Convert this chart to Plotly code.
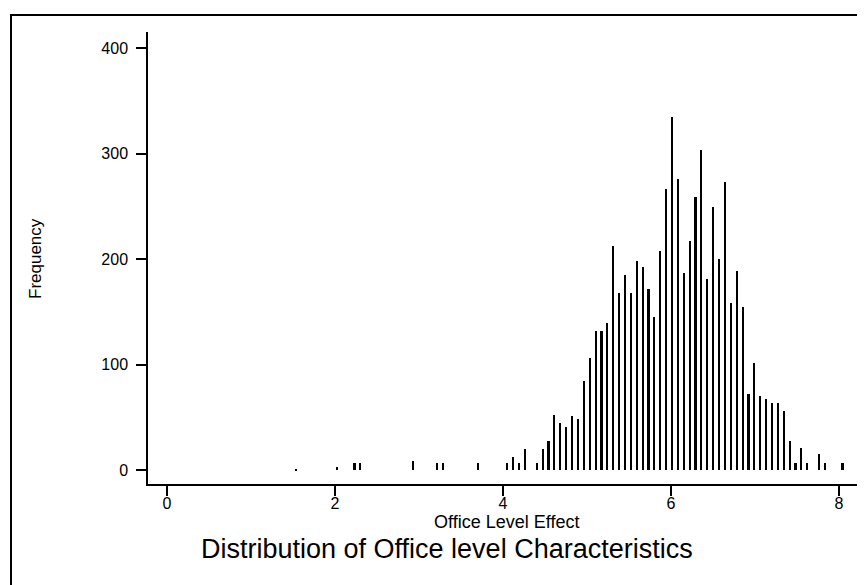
import plotly.graph_objects as go

# Histogram data: bins of width 0.07 starting at 1.5 (centres at 1.535 + 0.07*i)
bin_start = 1.535
bin_width = 0.07
counts = [
    1, 0, 0, 0, 0, 0, 0, 3, 0, 0,
    7, 7, 0, 0, 0, 0, 0, 0, 0, 0,
    9, 0, 0, 0, 7, 7, 0, 0, 0, 0,
    0, 7, 0, 0, 0, 0, 7, 13, 7, 20,
    0, 7, 20, 28, 52, 45, 41, 51, 49, 85,
    106, 132, 132, 140, 213, 168, 185, 168, 198, 193,
    172, 145, 208, 267, 335, 276, 187, 217, 259, 304,
    181, 250, 200, 273, 159, 189, 155, 72, 102, 70,
    68, 64, 64, 56, 28, 7, 21, 7, 0, 15,
    7, 0, 0, 7,
]
centres = [bin_start + bin_width * i for i in range(len(counts))]

x_ticks = [0, 2, 4, 6, 8]
y_ticks = [0, 100, 200, 300, 400]
x_title = "Office Level Effect"
y_title = "Frequency"
main_title = "Distribution of Office level Characteristics"

FONT = "Liberation Sans, Arial, sans-serif"

# page offset (body margin) so that positions match the reference screenshot
OFF = 8
W, H = 865, 585
plot_left, plot_right, plot_top, plot_bottom = 148, 859, 32, 484  # screen px
L = plot_left - OFF
T = plot_top - OFF
R = W - (plot_right - OFF)
B = H - (plot_bottom - OFF)
pw, ph = W - L - R, H - T - B

def px(xs):
    return (xs - plot_left) / pw

def py(ys):
    return (plot_bottom - ys) / ph

fig = go.Figure(
    go.Bar(
        x=centres,
        y=counts,
        width=0.019,
        marker=dict(color="black", line=dict(width=0)),
        showlegend=False,
    )
)

fig.update_layout(
    width=W,
    height=H,
    margin=dict(l=L, r=R, t=T, b=B, pad=0),
    paper_bgcolor="white",
    plot_bgcolor="white",
    bargap=0,
    font=dict(family=FONT, color="black"),
    xaxis=dict(
        range=[-0.226, 8.238],
        tickvals=x_ticks,
        ticktext=[str(v) for v in x_ticks],
        showgrid=False,
        zeroline=False,
        showline=True,
        linecolor="black",
        linewidth=1.5,
        ticks="outside",
        ticklen=10,
        tickwidth=1.5,
        tickcolor="black",
        ticklabelstandoff=-6,
        tickfont=dict(size=16, family=FONT, color="black"),
    ),
    yaxis=dict(
        range=[-13, 415.5],
        tickvals=y_ticks,
        ticktext=[str(v) for v in y_ticks],
        showgrid=False,
        zeroline=False,
        showline=True,
        linecolor="black",
        linewidth=1.5,
        ticks="outside",
        ticklen=10,
        tickwidth=1.5,
        tickcolor="black",
        ticklabelstandoff=5,
        tickfont=dict(size=16, family=FONT, color="black"),
    ),
    annotations=[
        dict(text=x_title, xref="paper", yref="paper", x=px(506), y=py(522),
             showarrow=False, xanchor="center", yanchor="middle",
             font=dict(size=18, family=FONT, color="black")),
        dict(text=main_title, xref="paper", yref="paper", x=px(447), y=py(549),
             showarrow=False, xanchor="center", yanchor="middle",
             font=dict(size=27, family=FONT, color="black")),
        dict(text=y_title, xref="paper", yref="paper", x=px(35), y=py(258),
             showarrow=False, xanchor="center", yanchor="middle", textangle=-90,
             font=dict(size=17, family=FONT, color="black")),
    ],
    shapes=[
        dict(type="rect", xref="paper", yref="paper",
             x0=px(11), x1=px(900), y0=py(620), y1=py(15),
             line=dict(color="black", width=2), fillcolor="rgba(0,0,0,0)",
             layer="above"),
    ],
)

fig.write_html("out.html")
